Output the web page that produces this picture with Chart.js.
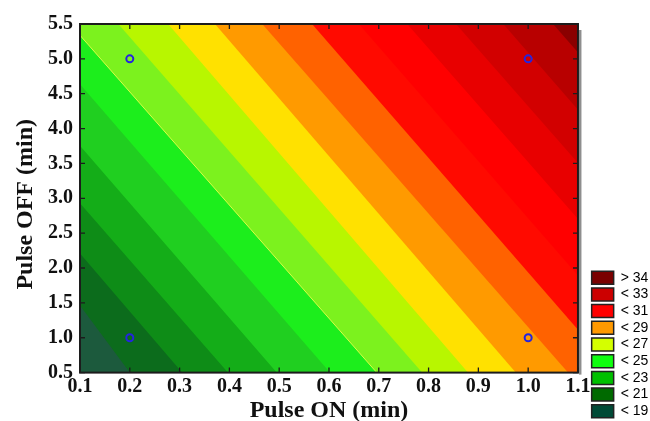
<!DOCTYPE html>
<html>
<head>
<meta charset="utf-8">
<script src="https://cdn.jsdelivr.net/npm/chart.js@4.4.1/dist/chart.umd.min.js"></script>
<style>
  html, body { margin: 0; padding: 0; background: #ffffff; }
  canvas { display: block; }
</style>
</head>
<body>
<canvas id="c" width="650" height="421"></canvas>
<script>
// ---- axis ticks ----
const xTicks = [0.1, 0.2, 0.3, 0.4, 0.5, 0.6, 0.7, 0.8, 0.9, 1.0, 1.1];
const yTicks = [0.5, 1.0, 1.5, 2.0, 2.5, 3.0, 3.5, 4.0, 4.5, 5.0, 5.5];

// ---- contour boundaries ----
// level of each contour line
const levels = [19, 20, 21, 22, 23, 24, 25, 26, 27, 28, 29, 30, 31, 32, 33, 34];
// x where the contour line meets Pulse OFF = 0.5 (bottom edge)
const xAtBottom = [0.200, 0.305, 0.397, 0.495, 0.602, 0.696, 0.787, 0.879, 0.975, 1.080, 1.175, 1.270, 1.370, 1.470, 1.560, 1.660];
// x where the contour line meets Pulse OFF = 5.5 (top edge)
const xAtTop = [-0.320, -0.295, -0.214, -0.112, -0.005, 0.080, 0.177, 0.277, 0.371, 0.466, 0.566, 0.660, 0.757, 0.855, 0.950, 1.050];
// fill colour of each band: below 19, 19-20, ..., 33-34, above 34
const bandColors = ['#1c5a3d', '#0c6c1c', '#0e8c17', '#14ad18', '#20cf20', '#1cee1c', '#7cf21e', '#b8f600',
                    '#ffe100', '#ff9a00', '#ff6200', '#ff0a00', '#ff0000', '#e80000', '#d20000', '#b80000', '#8a0000'];

// ---- design points ----
const designX = [0.2, 0.2, 1.0, 1.0];
const designY = [1.0, 5.0, 1.0, 5.0];

// ---- legend ----
const legendLabels = ['> 34', '< 33', '< 31', '< 29', '< 27', '< 25', '< 23', '< 21', '< 19'];
const legendColors = ['#7a0000', '#cc0000', '#ff0000', '#ff9900', '#d4ff00', '#10ff10', '#00c000', '#006a00', '#004a36'];

const xMin = xTicks[0], xMax = xTicks[xTicks.length - 1];
const yMin = yTicks[0], yMax = yTicks[yTicks.length - 1];

const SERIF = "'Liberation Serif', 'Times New Roman', serif";
const SANS = "'Liberation Sans', Arial, sans-serif";

// Each band = region left of its upper contour line; lower bands drawn on top.
const bandDatasets = bandColors.map((c, i) => {
  const upTop = i < levels.length ? xAtTop[i] : xMax;
  const upBot = i < levels.length ? xAtBottom[i] : xMax;
  return {
    label: 'band' + i,
    data: [{x: xMin, y: yMin}, {x: xMin, y: yMax}, {x: upTop, y: yMax}, {x: upBot, y: yMin}],
    showLine: true,
    fill: 'shape',
    backgroundColor: c,
    borderColor: c,
    borderWidth: 0,
    pointRadius: 0,
    pointHoverRadius: 0,
    yAxisID: 'y',
    order: 10 + i
  };
});

const k24 = levels.indexOf(24);
const lineDataset = {
  label: 'line24',
  data: [{x: xAtBottom[k24], y: yMin}, {x: xAtTop[k24], y: yMax}],
  showLine: true,
  fill: false,
  borderColor: 'rgba(225,255,70,0.95)',
  borderWidth: 1,
  pointRadius: 0,
  yAxisID: 'y',
  order: 1
};

const pointDataset = {
  label: 'design',
  data: designX.map((x, i) => ({x: x, y: designY[i]})),
  showLine: false,
  pointRadius: 3.5,
  pointBorderWidth: 2,
  pointBorderColor: '#2424e0',
  pointBackgroundColor: 'rgba(0,0,0,0)',
  yAxisID: 'y',
  order: 0
};

const framePlugin = {
  id: 'frame',
  afterDatasetsDraw(chart) {
    const {ctx, chartArea: a, scales} = chart;
    const x = scales.x, y = scales.y;
    ctx.save();
    ctx.fillStyle = '#8e8e8e';
    ctx.fillRect(a.right + 1, a.top + 6, 2.5, a.bottom - a.top - 4);
    ctx.strokeStyle = '#1c1c1c';
    ctx.lineWidth = 1.3;
    const L = 5;
    ctx.beginPath();
    xTicks.forEach(v => {
      const px = x.getPixelForValue(v);
      ctx.moveTo(px, a.bottom); ctx.lineTo(px, a.bottom - L);
      ctx.moveTo(px, a.top); ctx.lineTo(px, a.top + L);
    });
    yTicks.forEach(v => {
      const py = y.getPixelForValue(v);
      ctx.moveTo(a.left, py); ctx.lineTo(a.left + L, py);
      ctx.moveTo(a.right, py); ctx.lineTo(a.right - L, py);
    });
    ctx.stroke();
    ctx.lineWidth = 2;
    ctx.strokeRect(a.left, a.top, a.right - a.left, a.bottom - a.top);
    ctx.restore();
  }
};

new Chart(document.getElementById('c'), {
  type: 'scatter',
  data: { datasets: [pointDataset, lineDataset, ...bandDatasets] },
  options: {
    responsive: false,
    devicePixelRatio: 1,
    animation: false,
    events: [],
    layout: { padding: { left: 4, right: -8.3, top: 24, bottom: 0 } },
    scales: {
      x: {
        type: 'linear', min: xMin, max: xMax,
        afterBuildTicks: s => { s.ticks = xTicks.map(v => ({value: v})); },
        grid: { display: false, drawTicks: false },
        border: { display: false },
        ticks: {
          autoSkip: false, maxRotation: 0, padding: 4, color: '#111',
          font: { family: SERIF, size: 20, weight: 'bold', lineHeight: 1 },
          callback: v => Number(v).toFixed(1)
        },
        title: {
          display: true, text: 'Pulse ON (min)', color: '#111',
          font: { family: SERIF, size: 24, weight: 'bold', lineHeight: 0.85 },
          padding: { top: 0, bottom: 0 }
        }
      },
      y: {
        type: 'linear', min: yMin, max: yMax,
        afterBuildTicks: s => { s.ticks = yTicks.map(v => ({value: v})); },
        grid: { display: false, drawTicks: false },
        border: { display: false },
        ticks: {
          autoSkip: false, padding: 7, color: '#111',
          font: { family: SERIF, size: 20, weight: 'bold', lineHeight: 1 },
          callback: v => Number(v).toFixed(1)
        },
        title: {
          display: true, text: 'Pulse OFF (min)  ', color: '#111',
          font: { family: SERIF, size: 24, weight: 'bold', lineHeight: 1 },
          padding: { top: 10, bottom: 3 }
        }
      },
      yR: {
        type: 'linear', position: 'right', display: true,
        grid: { display: false, drawTicks: false },
        border: { display: false },
        ticks: { display: false },
        afterFit: s => { s.width = 11; }
      }
    },
    plugins: {
      tooltip: { enabled: false },
      legend: {
        position: 'right',
        align: 'end',
        onClick: null,
        labels: {
          boxWidth: 22,
          boxHeight: 13,
          padding: 2.7,
          color: '#111',
          font: { family: SANS, size: 14 },
          generateLabels: () => legendLabels.map((t, i) => ({
            text: t, fillStyle: legendColors[i], strokeStyle: '#222', lineWidth: 1.5, hidden: false
          }))
        }
      }
    }
  },
  plugins: [framePlugin]
});
</script>
</body>
</html>
